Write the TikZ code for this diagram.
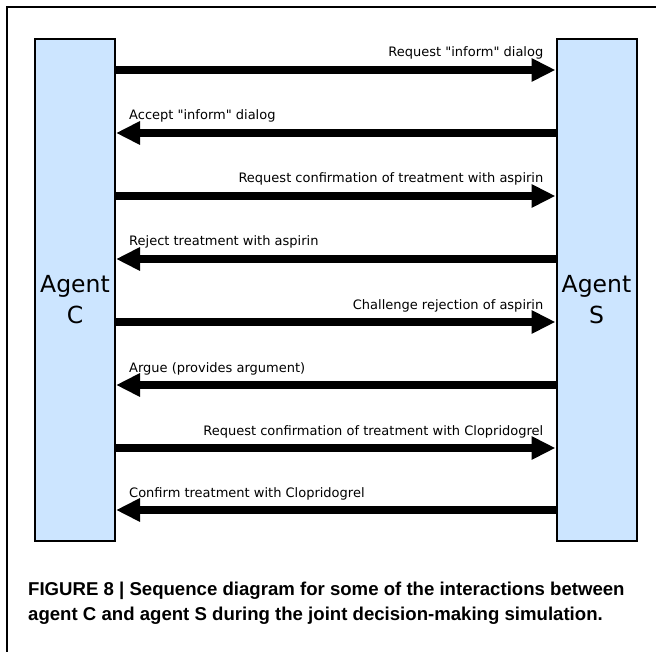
\documentclass[tikz,border=0pt]{standalone}
\usepackage{fontspec}
\setmainfont{DejaVu Sans}[Ligatures=TeXOff]
\newfontfamily\capfont{Liberation Sans}
\usetikzlibrary{arrows.meta}
\definecolor{agentblue}{RGB}{204,229,255}
\begin{document}
\begin{tikzpicture}[x=1pt,y=-1pt,
  agentbox/.style={draw=black, line width=2pt, fill=agentblue, minimum width=80pt, minimum height=502pt, inner sep=0pt},
  agentname/.style={font=\fontsize{23.5}{31}\selectfont, align=center, inner sep=0pt},
  msg/.style={line width=8pt, -{Triangle[length=24pt,width=22pt]}},
  lab/.style={font=\fontsize{13}{15}\selectfont, inner sep=0pt},
  captext/.style={font=\capfont\bfseries\fontsize{18.6}{22}\selectfont, align=left, inner sep=0pt, anchor=base west}
]
\useasboundingbox (0,0) rectangle (656,652);
\fill[white] (0,0) rectangle (656,652);
% frame
\coordinate (ftr) at (656,7);
\coordinate (ftl) at (7,7);
\coordinate (fbl) at (7,652);
\draw[line width=1.5pt] (ftr) -- (ftl) -- (fbl);
% agents
\node[agentbox] (c) at (75,290) {};
\node[agentbox] (s) at (596.5,290) {};
\node[agentname] (ct) at (75,300) {Agent\\C};
\node[agentname] (st) at (596.5,300) {Agent\\S};
% messages
\def\q{\symbol{34}}
\foreach \i/\y/\dir/\txt in {
  1/70/r/{Request \q inform\q\ dialog},
  2/133/l/{Accept \q inform\q\ dialog},
  3/196/r/{Request confirmation of treatment with aspirin},
  4/259/l/{Reject treatment with aspirin},
  5/322/r/{Challenge rejection of aspirin},
  6/385/l/{Argue (provides argument)},
  7/448/r/{Request confirmation of treatment with Clopridogrel},
  8/510/l/{Confirm treatment with Clopridogrel}}{
  \coordinate (cm\i) at (c.east |- 0,\y);
  \coordinate (sm\i) at (s.west |- 0,\y);
  \if r\dir
    \draw[msg] (cm\i) -- (sm\i);
    \node[lab, anchor=base east] (t\i) at ([xshift=-12pt,yshift=13pt]sm\i) {\txt};
  \else
    \draw[msg] (sm\i) -- (cm\i);
    \node[lab, anchor=base west] (t\i) at ([xshift=13pt,yshift=13pt]cm\i) {\txt};
  \fi
}
% caption
\node[captext] (cap1) at (28,595) {FIGURE 8 | Sequence diagram for some of the interactions between};
\node[captext] (cap2) at (28,620) {agent C and agent S during the joint decision-making simulation.};
\end{tikzpicture}
\end{document}
